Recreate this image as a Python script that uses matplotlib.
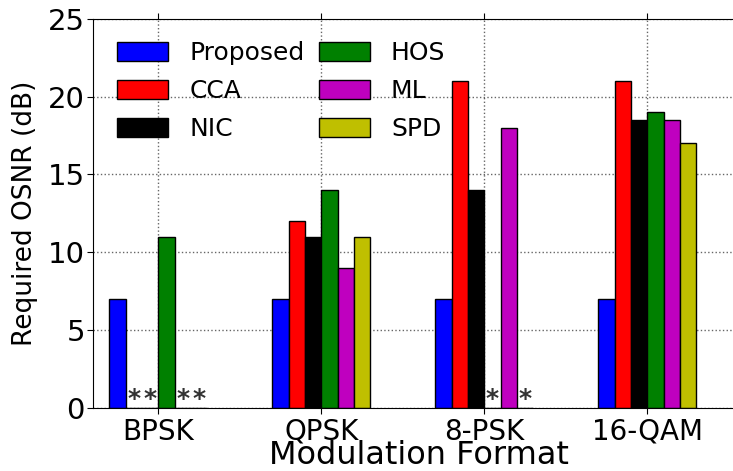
import numpy as np
import matplotlib.pyplot as plt

formats = ['BPSK', 'QPSK', '8-PSK', '16-QAM']
methods = ['Proposed', 'CCA', 'NIC', 'HOS', 'ML', 'SPD']
colors = ['#0000ff', '#ff0000', '#000000', '#008000', '#bf00bf', '#bfbf00']

# None = method not applicable (marked with *)
osnr = {
    'Proposed': [7, 7, 7, 7],
    'CCA': [None, 12, 21, 21],
    'NIC': [None, 11, 14, 18.5],
    'HOS': [11, 14, None, 19],
    'ML': [None, 9, 18, 18.5],
    'SPD': [None, 11, None, 17],
}

fig = plt.figure(figsize=(7.33, 4.71), dpi=100)
# axes run a bit past the right edge (the original is cropped there)
ax = fig.add_axes([0.127, 0.134, 0.8895, 0.826])

x = np.arange(len(formats))
width = 0.1
for i, (m, c) in enumerate(zip(methods, colors)):
    vals = osnr[m]
    pos = x + (i - 3) * width
    h = [v if v is not None else 0 for v in vals]
    ax.bar(pos, h, width, align='edge', color=c, edgecolor='black',
           linewidth=1, label=m, zorder=2)
    for p, v in zip(pos, vals):
        if v is None:
            ax.text(p + width / 2, 0.15, '*', ha='center', va='baseline',
                    fontsize=18, fontweight='bold', color='#333333', zorder=3)

ax.set_xlim(-0.4, 3.6)
ax.set_ylim(0, 25)
ax.set_xticks(x)
ax.set_xticklabels(formats)
ax.set_yticks([0, 5, 10, 15, 20, 25])
ax.tick_params(direction='out', top=True, right=True, length=4)
ax.tick_params(axis='x', labelsize=20, pad=3)
ax.tick_params(axis='y', labelsize=21, pad=2)
ax.spines['right'].set_visible(False)

ax.set_xlabel('Modulation Format', fontsize=23)
ax.xaxis.set_label_coords(0.5, -0.083)
ax.set_ylabel('Required OSNR (dB)', fontsize=19)
ax.yaxis.set_label_coords(-0.084, 0.5)

ax.grid(True, linestyle=':', color='black', linewidth=1, alpha=0.6, zorder=0)
ax.set_axisbelow(True)

ax.legend(loc='upper left', ncol=2, frameon=False, fontsize=18,
          handlelength=2.05, handleheight=0.8, columnspacing=0.56,
          handletextpad=0.84, labelspacing=0.55, borderaxespad=0,
          borderpad=0, bbox_to_anchor=(0.037, 0.942))

fig.savefig('out.png', dpi=100)
